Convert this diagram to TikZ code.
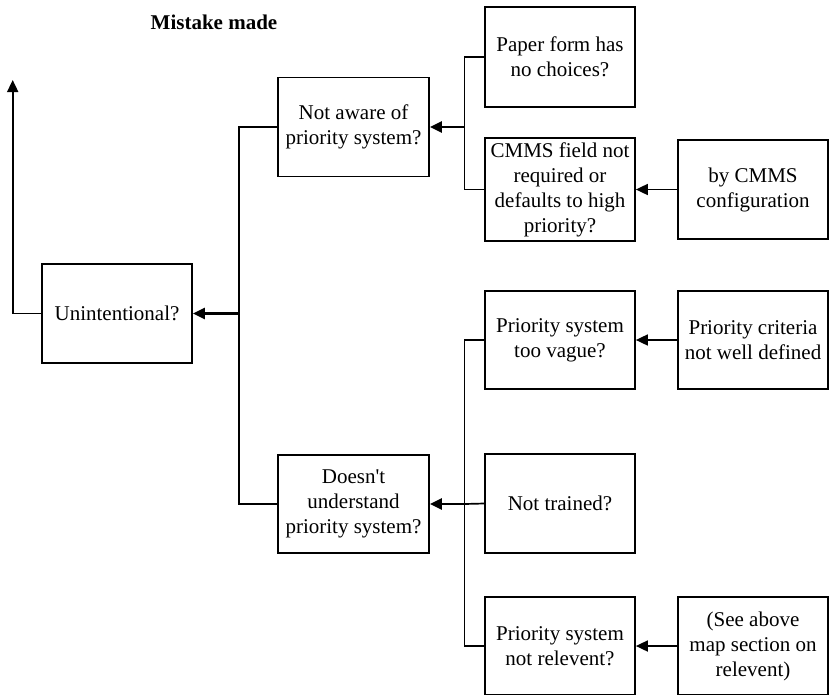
\documentclass[tikz,border=0pt]{standalone}
\usepackage{fontspec}
\setmainfont{Liberation Serif}
\usetikzlibrary{arrows.meta}
\begin{document}
\begin{tikzpicture}[x=1pt,y=-1pt,
  box/.style={draw, line width=1.7pt, minimum width=150pt, minimum height=99pt,
    align=center, inner sep=2pt, font=\fontsize{21}{25}\selectfont},
  link/.style={line width=1.7pt},
  feed/.style={line width=2.5pt, -{Triangle[length=12pt,width=11pt]}},
  tip/.style={line width=1.7pt, -{Triangle[length=12pt,width=11pt]}}]
\useasboundingbox (0,0) rectangle (829,694);

% title
\node[font=\fontsize{21}{25}\selectfont\bfseries] (title) at (214,22) {Mistake made};

% level 1
\node[box] (unint) at (117,313.5) {Unintentional?};

% level 2
\node[box, minimum width=151pt] (aware) at (353.5,127) {Not aware of\\priority system?};
\node[box, minimum width=151pt, minimum height=98pt] (dont) at (353.5,504) {Doesn\textquotesingle t\\understand\\priority system?};

% level 3
\node[box, minimum height=100pt] (paper) at (560,57) {Paper form has\\no choices?};
\node[box, minimum height=103pt] (cmms) at (560,189.5) {CMMS field not\\required or\\defaults to high\\priority?};
\node[box, minimum height=98pt] (vague) at (560,340) {Priority system\\too vague?};
\node[box] (trained) at (560,503.5) {Not trained?};
\node[box, minimum height=98pt] (relev) at (560,646) {Priority system\\not relevent?};

% level 4
\node[box] (config) at (753,189.5) {by CMMS\\configuration};
\node[box, minimum height=98pt] (crit) at (753,340) {Priority criteria\\not well defined};
\node[box, minimum height=98pt] (see) at (753,646) {(See above\\map section on\\relevent)};

% junction points
\coordinate (top) at (12.7,80);
\coordinate (j1) at (239,313.5);
\coordinate (j2) at (464.5,127);
\coordinate (j3) at (464.5,504);

% into the root and upward
\draw[tip] (unint.west) -| (top);
\draw[feed] (j1) -- (unint.east);
\draw[link] (aware.west) -| (j1);
\draw[link] (dont.west) -| (j1);

% into "Not aware of priority system?"
\draw[feed] (j2) -- (aware.east);
\draw[link] (paper.west) -| (j2);
\draw[link] (cmms.west) -| (j2);

% into "Doesn't understand priority system?"
\draw[feed] (j3) -- (dont.east);
\draw[link] (vague.west) -| (j3);
\draw[link] (trained.west) -- (j3);
\draw[link] (relev.west) -| (j3);

% outer causes
\draw[tip] (config.west) -- (cmms.east);
\draw[tip] (crit.west) -- (vague.east);
\draw[tip] (see.west) -- (relev.east);
\end{tikzpicture}
\end{document}
